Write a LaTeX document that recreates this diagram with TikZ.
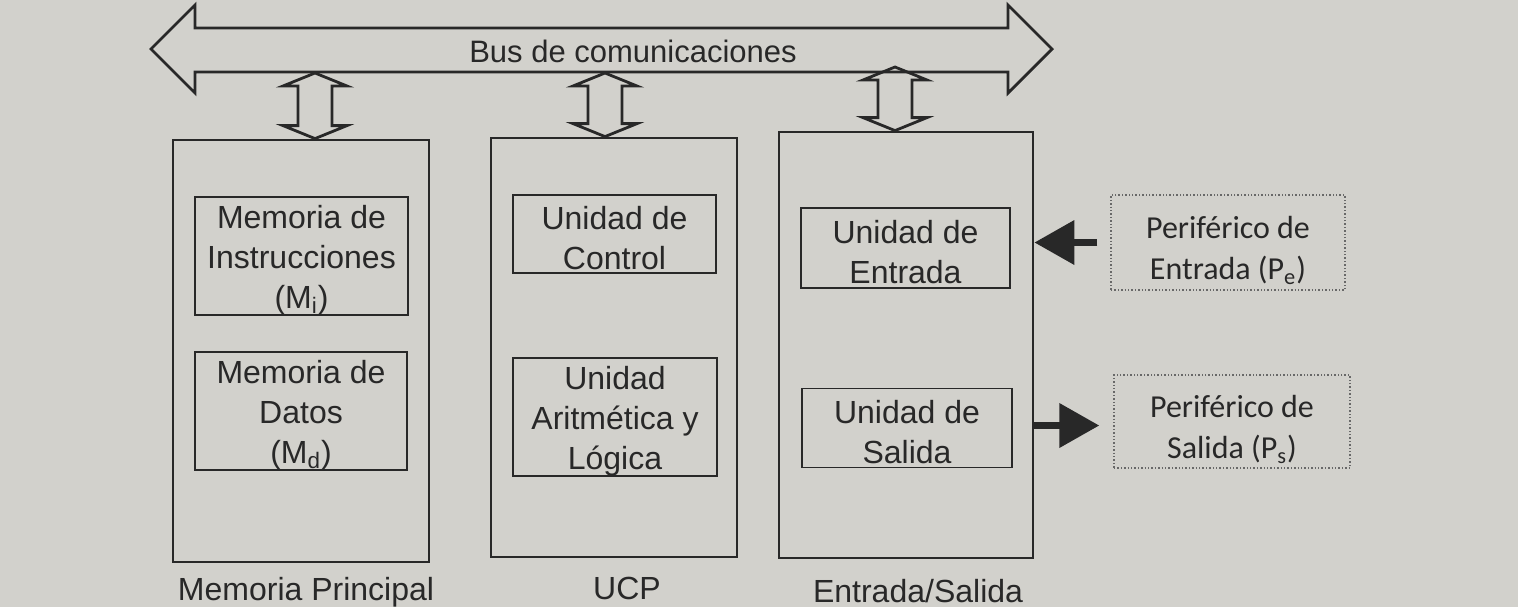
\documentclass[tikz,border=0pt]{standalone}
\usepackage{fontspec}
\setmainfont{Liberation Sans}
\newfontfamily\calibri{Carlito}
\usetikzlibrary{positioning, calc, arrows.meta}

\definecolor{paper}{RGB}{210,209,204}
\definecolor{ink}{RGB}{40,40,40}

% hollow two-way arrow between the bus and a block
\newcommand{\buslink}[2]{%
  \draw[linkline] (#1) -- ++(-32,13) -- ++(15,0) -- ($(#2)+(-17,-13)$) -- ++(-15,0)
    -- (#2) -- ++(32,-13) -- ++(-15,0) -- ($(#1)+(17,13)$) -- ++(15,0) -- cycle;}

\begin{document}
\begin{tikzpicture}[
    x=0.5pt, y=-0.5pt,
    block/.style={draw=ink, line width=1.4pt, inner sep=0},
    unit/.style={draw=ink, line width=0.9pt, inner sep=0},
    unittext/.style={inner sep=0, align=center, text=ink, yshift=-2pt,
                     font=\fontsize{16}{20}\selectfont},
    caption/.style={inner sep=0, text=ink, font=\fontsize{16}{20}\selectfont},
    device/.style={draw=ink!70, densely dotted, line width=0.7pt, inner sep=0},
    devicetext/.style={inner sep=0, align=center, text=ink, yshift=-4pt,
                       font=\calibri\fontsize{16}{20.5}\selectfont},
    linkline/.style={draw=ink, line width=1.4pt, line join=miter},
    ioarrow/.style={draw=ink, line width=3.6pt, -{Triangle[length=20pt, width=21.5pt]}}
]

% paper
\fill[paper] (0,0) rectangle (1518,607);

% Bus de comunicaciones
\draw[linkline] (151,49) -- (195,5) -- (195,28) -- (1008,28) -- (1008,5) -- (1052,49)
    -- (1008,93) -- (1008,72) -- (195,72) -- (195,93) -- cycle;
\node[caption, font=\fontsize{15.5}{18}\selectfont] (bus) at (633,51) {Bus de comunicaciones};
\coordinate (busS) at (0,73);

% Main blocks
\node[block, minimum width=128pt, minimum height=211pt] (mp) at (301,351) {};
\node[block, minimum width=123pt, minimum height=209.5pt] (ucp) at (614,347.5) {};
\node[block, minimum width=127pt, minimum height=213pt] (es) at (906,345) {};

% Units inside
\node[unit, minimum width=106.5pt, minimum height=59pt, label={[unittext]center:{Memoria de\\Instrucciones\\(M\textsubscript{i})}}] (mi) at (301.5,256) {};
\node[unit, minimum width=106pt, minimum height=59pt, label={[unittext]center:{Memoria de\\Datos\\(M\textsubscript{d})}}] (md) at (301,411) {};
\node[unit, minimum width=101.5pt, minimum height=39pt, label={[unittext]center:{Unidad de\\Control}}] (uc) at (614.5,234) {};
\node[unit, minimum width=102pt, minimum height=59pt, label={[unittext]center:{Unidad\\Aritmética y\\Lógica}}] (alu) at (615,417) {};
\node[unit, minimum width=104.5pt, minimum height=40pt, label={[unittext]center:{Unidad de\\Entrada}}] (ue) at (905.5,248) {};
\node[unit, minimum width=105pt, minimum height=39.5pt, label={[unittext]center:{Unidad de\\Salida}}] (us) at (907,428) {};

% Captions
\node[caption, below=6.5pt of mp.south, xshift=2.5pt] (mplab) {Memoria Principal};
\node[caption, below=9pt of ucp.south, xshift=6.5pt] (ucplab) {UCP};
\node[caption, below=9.5pt of es.south, xshift=6pt] (eslab) {Entrada/Salida};

% Peripherals
\node[device, minimum width=117pt, minimum height=47.5pt, label={[devicetext]center:{Periférico de\\Entrada (P\textsubscript{e})}}] (pe) at (1228,242.5) {};
\node[device, minimum width=118pt, minimum height=46.5pt, label={[devicetext]center:{Periférico de\\Salida (P\textsubscript{s})}}] (ps) at (1232,421.5) {};

% Bus links
\coordinate (t1) at ($(busS -| mp.north)+(14,0)$);
\coordinate (b1) at ($(mp.north)+(14,0)$);
\coordinate (t2) at ($(busS -| ucp.north)+(-9,0)$);
\coordinate (b2) at ($(ucp.north)+(-9,0)$);
\coordinate (t3) at ($(busS -| es.north)+(-11,-6)$);
\coordinate (b3) at ($(es.north)+(-11,0)$);
\buslink{t1}{b1}
\buslink{t2}{b2}
\buslink{t3}{b3}

% Peripheral arrows
\draw[ioarrow, shorten <=6.5pt] (pe.west) -- (pe.west -| es.east);
\draw[ioarrow, shorten >=7pt] ($(ps.west -| es.east)+(0,4)$) -- ($(ps.west)+(0,4)$);

\end{tikzpicture}
\end{document}
